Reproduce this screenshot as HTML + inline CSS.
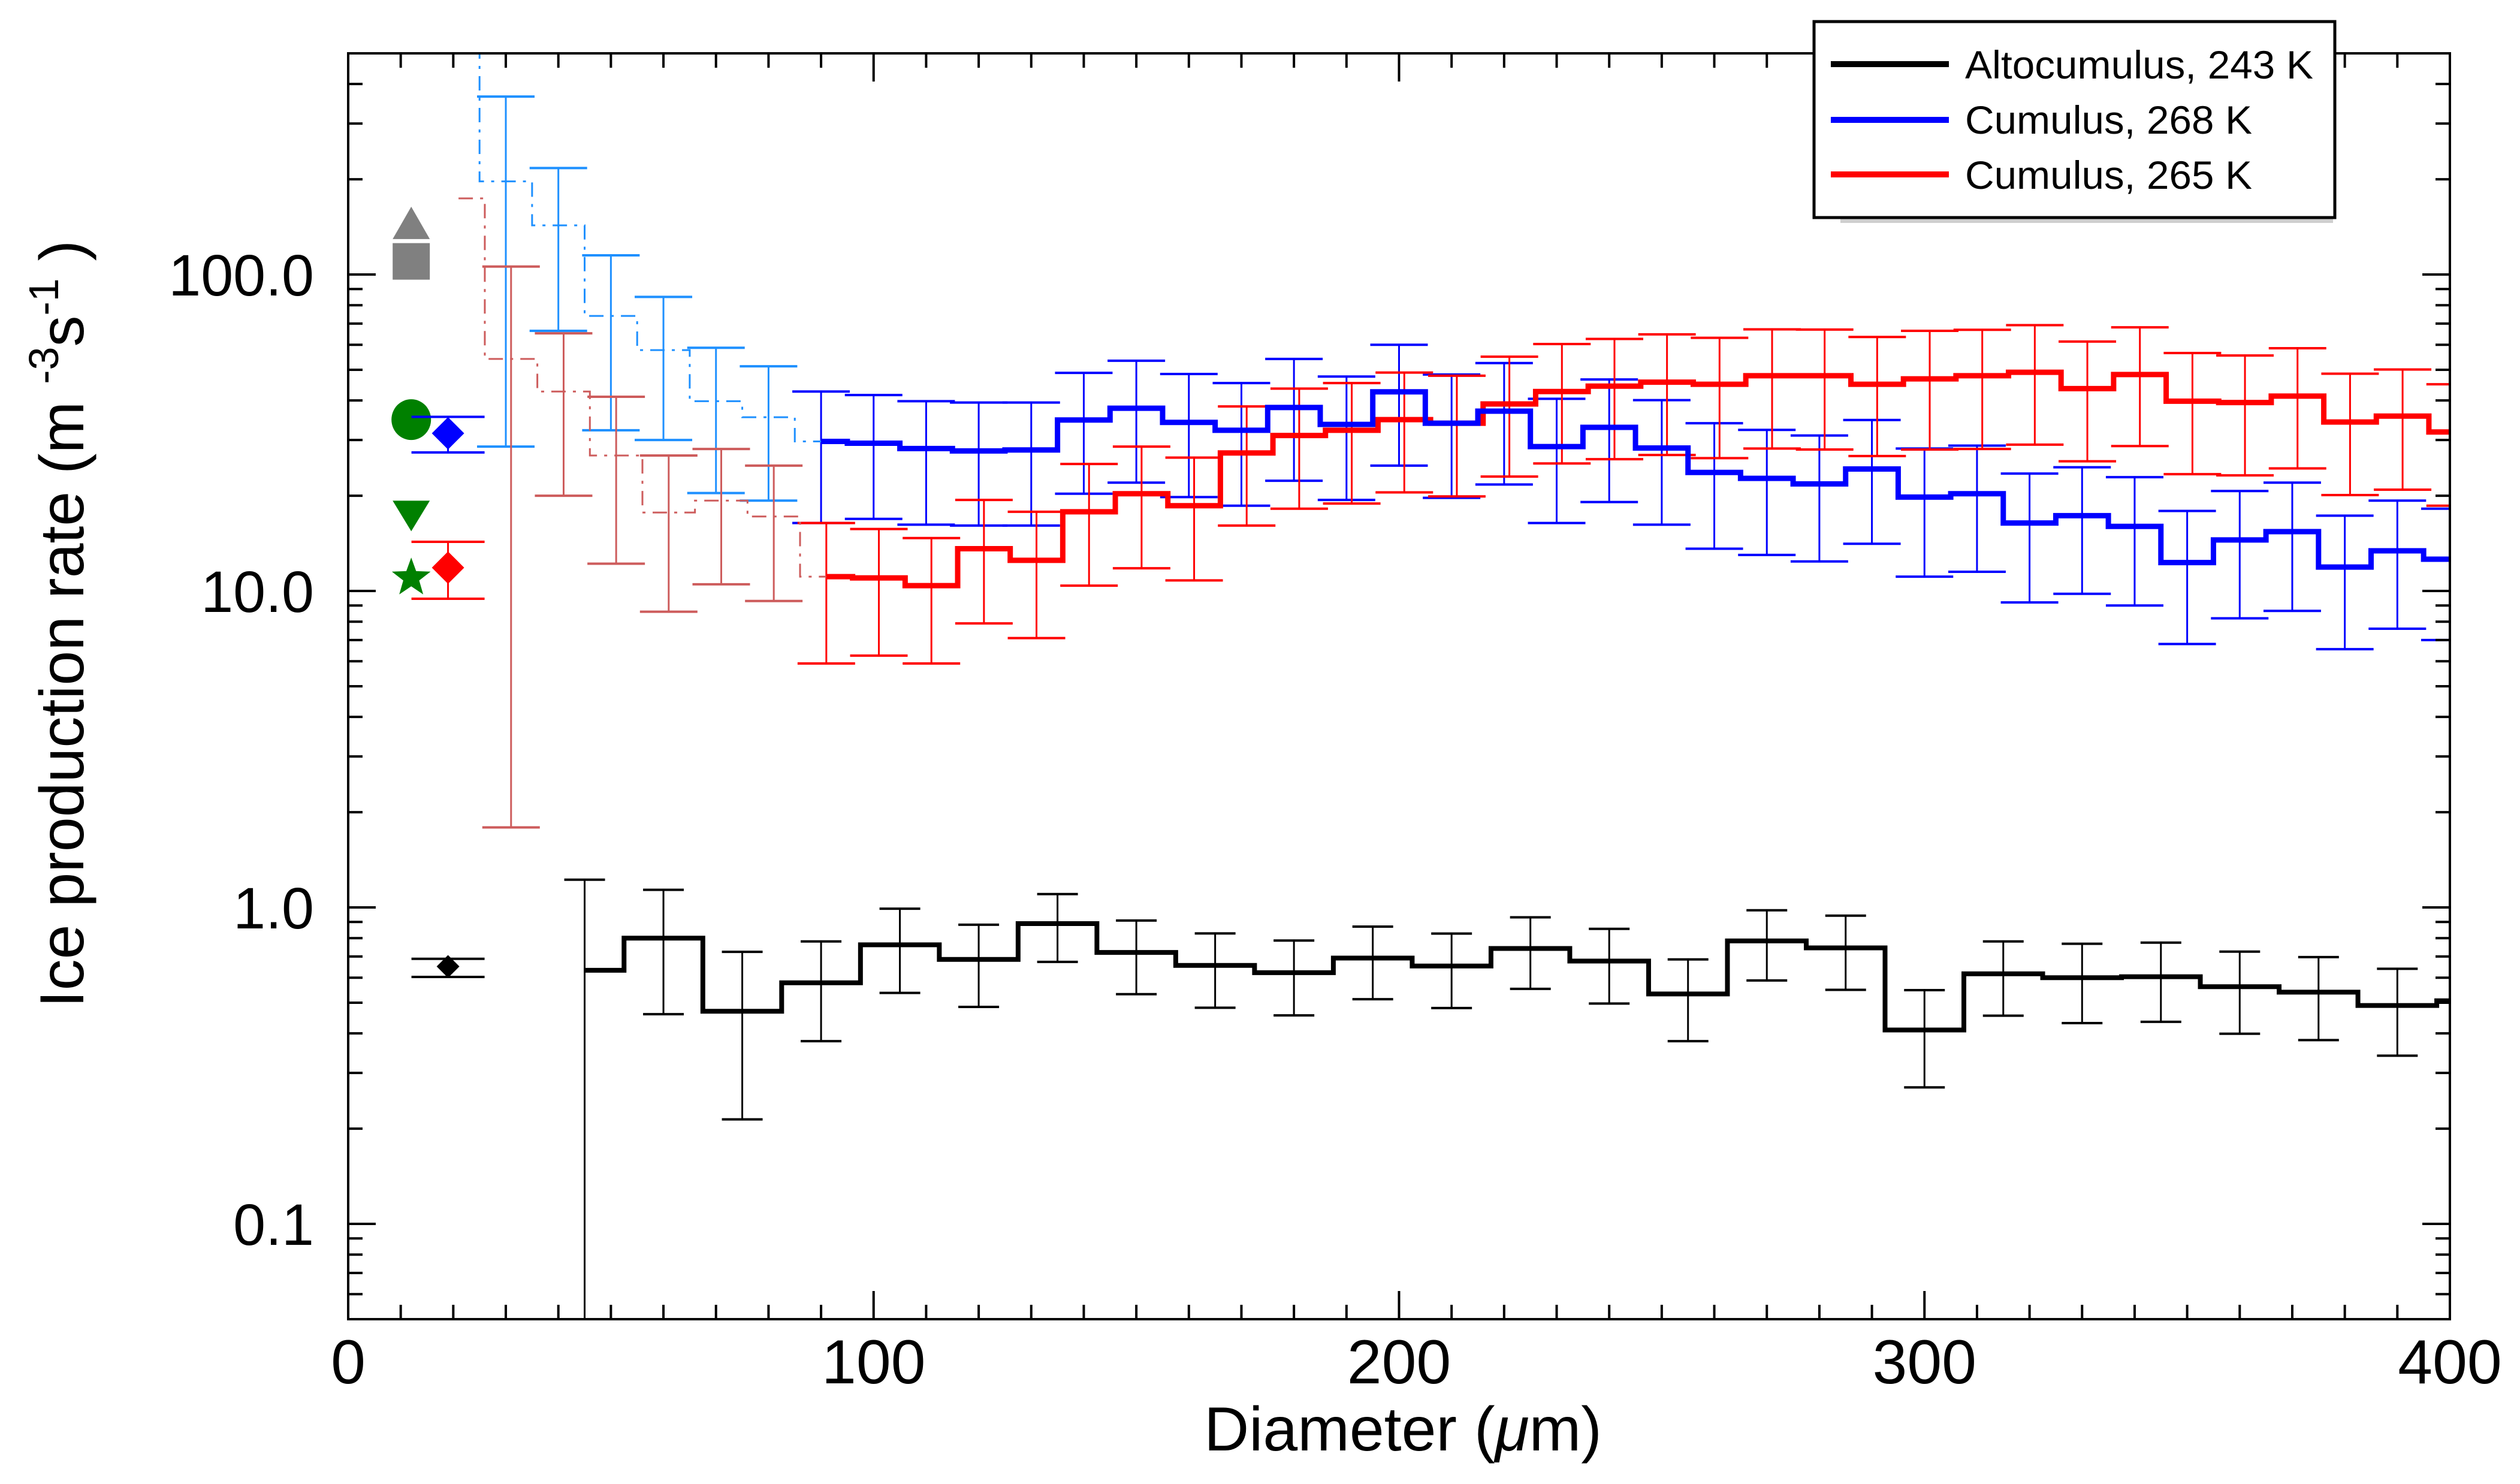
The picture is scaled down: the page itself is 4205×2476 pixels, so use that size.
<!DOCTYPE html>
<html><head><meta charset="utf-8"><style>
html,body{margin:0;padding:0;background:#fff;}
svg{display:block;font-family:"Liberation Sans",Arial,sans-serif;}
</style></head><body>
<svg id="chart" xmlns="http://www.w3.org/2000/svg" width="4205" height="2476" viewBox="0 0 4205 2476">
<defs><clipPath id="plotclip"><rect x="581" y="89" width="3507" height="2112"/></clipPath></defs>
<rect width="4205" height="2476" fill="#fff"/>
<g id="data" clip-path="url(#plotclip)"></g>
<g id="markers"></g>
<g id="axes"></g>
<text transform="translate(139,1041) rotate(-90)" text-anchor="middle" font-size="104">Ice production rate (m <tspan font-size="70" dy="-42">-3</tspan><tspan dy="42">s</tspan><tspan font-size="70" dy="-42">-1</tspan><tspan dy="42"> )</tspan></text>
<text x="2341" y="2420" text-anchor="middle" font-size="104">Diameter (<tspan font-style="italic">μ</tspan>m)</text>
<g>
<rect x="3071" y="362" width="822" height="10" fill="#cfcfcf"/>
<rect x="3027" y="36" width="869" height="327" fill="#fff" stroke="#000" stroke-width="5"/>
<line x1="3055" x2="3252" y1="107" y2="107" stroke="#000" stroke-width="10"/>
<line x1="3055" x2="3252" y1="200" y2="200" stroke="#0000ff" stroke-width="10"/>
<line x1="3055" x2="3252" y1="291" y2="291" stroke="#ff0000" stroke-width="10"/>
<text x="3279" y="131" font-size="66" textLength="581" lengthAdjust="spacingAndGlyphs">Altocumulus, 243 K</text>
<text x="3279" y="223" font-size="66" textLength="479" lengthAdjust="spacingAndGlyphs">Cumulus, 268 K</text>
<text x="3279" y="315" font-size="66" textLength="479" lengthAdjust="spacingAndGlyphs">Cumulus, 265 K</text>
</g>
</svg>
<script>
// ---- data ----
const blueCenters = [20,30,40,50,60,70,80,90,100,110,120,130,140,150,160,170,180,190,200,210,220,230,240,250,260,270,280,290,300,310,320,330,340,350,360,370,380,390,400];
const blueVals = [700,197,143,74,57.7,39.8,35.4,29.7,29.3,28.2,27.7,27.9,34.7,37.8,34.1,32.2,38.0,33.6,42.6,33.9,37.0,28.6,32.9,28.3,23.7,22.7,21.8,24.3,19.8,20.3,16.4,17.3,16.0,12.3,14.5,15.4,11.9,13.4,12.6];
const blueHi = [null,365,217,115,85,58.7,51.3,42.7,41.6,39.8,39.4,39.4,48.9,53.4,48.5,45.4,54.1,47.6,60.0,48.3,52.5,40.5,46.6,40.1,33.9,32.3,31,34.7,28.2,28.8,23.5,24.6,22.9,17.9,20.7,22.0,17.3,19.3,18.2];
const blueLo = [null,28.6,66.4,32.2,30,20.4,19.3,16.4,16.9,16.2,16.1,16.1,20.3,22.0,19.8,18.6,22.3,19.4,24.9,19.7,21.7,16.4,19.1,16.2,13.6,13.0,12.4,14.1,11.1,11.5,9.2,9.8,9.0,6.8,8.2,8.65,6.55,7.6,7.0];
const redCenters = [21,31,41,51,61,71,81,91,101,111,121,131,141,151,161,171,181,191,201,211,221,231,241,251,261,271,281,291,301,311,321,331,341,351,361,371,381,391,401];
const redVals = [174,54.1,42.7,26.8,17.7,19.3,17.2,11.1,11.0,10.4,13.6,12.5,17.8,20.3,18.6,27.3,31.0,32.2,34.8,33.9,39.0,42.7,44.4,45.7,45.0,47.9,47.9,45.0,46.8,47.9,49.1,43.6,48.3,39.8,39.4,41.3,34.2,35.7,31.8];
const redHi = [null,106,65.2,41.1,26.8,28.1,24.9,16.4,15.7,14.7,19.4,17.8,25.2,28.6,26.4,38.3,43.6,45.4,49.0,47.9,55.0,60.3,62.6,64.7,63.1,67.1,67,63.5,66.4,66.9,69.2,61.4,68.1,56.5,55.5,58.5,48.6,50.1,45];
const redLo = [null,1.79,20.0,12.2,8.6,10.5,9.3,5.9,6.25,5.9,7.9,7.1,10.4,11.8,10.8,16.1,18.2,18.9,20.5,19.9,23.0,25.3,26.1,26.9,26.3,28.2,28,26.7,28.0,28.1,29.0,25.7,28.7,23.4,23.2,24.4,20.1,20.9,18.6];
const blackCenters = [45,60,75,90,105,120,135,150,165,180,195,210,225,240,255,270,285,300,315,330,345,360,375,390,405];
const blackVals = [0.633,0.800,0.470,0.578,0.762,0.685,0.889,0.721,0.656,0.622,0.692,0.653,0.742,0.677,0.533,0.784,0.745,0.410,0.617,0.600,0.604,0.562,0.540,0.490,0.507];
const blackHi = [1.224,1.137,0.724,0.781,0.991,0.882,1.102,0.909,0.828,0.786,0.870,0.827,0.931,0.856,0.685,0.980,0.942,0.548,0.781,0.768,0.774,0.725,0.697,0.640,0.66];
const blackLo = [0.01,0.460,0.214,0.378,0.537,0.485,0.673,0.532,0.482,0.456,0.513,0.481,0.553,0.497,0.378,0.588,0.549,0.270,0.455,0.431,0.435,0.399,0.381,0.340,0.36];
const markerNames = ['grey-triangle','grey-square','green-circle','blue-diamond','green-triangle-down','green-star','red-diamond','black-diamond'];
const markerX = [12,12,12,19,12,12,19,19];
const markerVals = [145.6,109.8,34.8,31.5,17.3,11.0,11.85,0.651];
const markerHi = [null,null,null,35.5,null,null,14.3,0.688];
const markerLo = [null,null,null,27.4,null,null,9.45,0.603];
const yTickVals = [0.1,1,10,100];
const yTickLabels = ['0.1','1.0','10.0','100.0'];
const xTickVals = [0,100,200,300,400];
const xTickLabels = ['0','100','200','300','400'];

// ---- scales ----
const X0=581, X1=4088, Y0=89, Y1=2201, XMIN=0, XMAX=400, LMIN=Math.log10(0.05), LMAX=Math.log10(500);
function xs(v){return X0+(v-XMIN)/(XMAX-XMIN)*(X1-X0);}
function ys(v){return Y1-(Math.log10(v)-LMIN)/(LMAX-LMIN)*(Y1-Y0);}
const NS='http://www.w3.org/2000/svg';
function mk(tag,attrs,parent){const e=document.createElementNS(NS,tag);for(const k in attrs)e.setAttribute(k,attrs[k]);parent.appendChild(e);return e;}
const dataG=document.getElementById('data');
const axesG=document.getElementById('axes');
const markG=document.getElementById('markers');

function stepPath(c,v,i0,i1){
  let d='M'+xs(c[i0])+' '+ys(v[i0]);
  for(let i=i0+1;i<=i1;i++){const m=(c[i-1]+c[i])/2;d+=' H'+xs(m)+' V'+ys(v[i]);}
  d+=' H'+xs(c[i1]);return d;
}
function errBars(c,hi,lo,color,half,sw,name,split,lightColor){
  for(let i=0;i<c.length;i++){
    if(hi[i]==null)continue;
    const col=(split!=null&&i<split)?lightColor:color;
    const g=mk('g',{},dataG);
    
    
    const x=xs(c[i]),yh=ys(hi[i]),yl=ys(lo[i]);
    mk('line',{x1:x,x2:x,y1:yh,y2:yl,stroke:col,'stroke-width':sw},g);
    mk('line',{x1:x-half,x2:x+half,y1:yh,y2:yh,stroke:col,'stroke-width':sw+1},g);
    mk('line',{x1:x-half,x2:x+half,y1:yl,y2:yl,stroke:col,'stroke-width':sw+1},g);
  }
}
// error bars
errBars(blueCenters,blueHi,blueLo,'#0000ff',48,3,'blue',7,'#1e90ff');
errBars(redCenters,redHi,redLo,'#ff0000',48,3,'red',7,'#cd5c5c');
errBars(blackCenters,blackHi,blackLo,'#000',34,3,'black',null,null);
// steps
let p;
p=mk('path',{d:stepPath(blueCenters,blueVals,0,7),fill:'none',stroke:'#1e90ff','stroke-width':3,'stroke-dasharray':'24 12 5 12'},dataG);


p=mk('path',{d:stepPath(redCenters,redVals,0,7),fill:'none',stroke:'#cd5c5c','stroke-width':3,'stroke-dasharray':'24 12 5 12'},dataG);


p=mk('path',{d:stepPath(redCenters,redVals,7,redCenters.length-1),fill:'none',stroke:'#ff0000','stroke-width':9},dataG);


p=mk('path',{d:stepPath(blueCenters,blueVals,7,blueCenters.length-1),fill:'none',stroke:'#0000ff','stroke-width':9},dataG);


p=mk('path',{d:stepPath(blackCenters,blackVals,0,blackCenters.length-1),fill:'none',stroke:'#000','stroke-width':8},dataG);



// markers
const mColors={'grey-triangle':'#808080','grey-square':'#808080','green-circle':'#008000','blue-diamond':'#0000ff','green-triangle-down':'#008000','green-star':'#008000','red-diamond':'#ff0000','black-diamond':'#000'};
for(let i=0;i<markerNames.length;i++){
  const n=markerNames[i],x=xs(markerX[i]),y=ys(markerVals[i]),col=mColors[n];
  const g=mk('g',{},markG);
  
  
  if(markerHi[i]!=null){
    const yh=ys(markerHi[i]),yl=ys(markerLo[i]);
    mk('line',{x1:x,x2:x,y1:yh,y2:yl,stroke:col,'stroke-width':3},g);
    mk('line',{x1:x-61,x2:x+61,y1:yh,y2:yh,stroke:col,'stroke-width':4},g);
    mk('line',{x1:x-61,x2:x+61,y1:yl,y2:yl,stroke:col,'stroke-width':4},g);
  }
  let s;
  if(n==='grey-triangle')s=mk('polygon',{points:`${x},${y-27} ${x+31},${y+27} ${x-31},${y+27}`,fill:col},g);
  else if(n==='grey-square')s=mk('rect',{x:x-31,y:y-31,width:62,height:61,fill:col},g);
  else if(n==='green-circle')s=mk('ellipse',{cx:x,cy:y,rx:33,ry:34,fill:col},g);
  else if(n==='green-triangle-down')s=mk('polygon',{points:`${x-31},${y-25} ${x+31},${y-25} ${x},${y+26}`,fill:col},g);
  else if(n==='green-star'){let pts=[];for(let k=0;k<10;k++){const r=k%2?14:34,a=-Math.PI/2+k*Math.PI/5;pts.push((x+r*Math.cos(a)).toFixed(1)+','+(y+r*Math.sin(a)).toFixed(1));}s=mk('polygon',{points:pts.join(' '),fill:col},g);}
  else {const h=n==='black-diamond'?19:27;s=mk('polygon',{points:`${x},${y-h} ${x+h},${y} ${x},${y+h} ${x-h},${y}`,fill:col},g);}
}

// axes
const frame=mk('rect',{x:X0,y:Y0,width:X1-X0,height:Y1-Y0,fill:'none',stroke:'#000','stroke-width':4},axesG);


for(let d=-2;d<=2;d++){
  for(let m=1;m<=9;m++){
    const v=m*Math.pow(10,d);
    if(v<0.05||v>500)continue;
    const y=ys(v),L=(m===1)?46:24;
    const t1=mk('line',{x1:X0,x2:X0+L,y1:y,y2:y,stroke:'#000','stroke-width':4},axesG);
    
    
    const t2=mk('line',{x1:X1,x2:X1-L,y1:y,y2:y,stroke:'#000','stroke-width':4},axesG);
    
    
  }
}
for(let v=0;v<=400;v+=10){
  const x=xs(v),L=(v%100===0)?47:24;
  const t1=mk('line',{x1:x,x2:x,y1:Y1,y2:Y1-L,stroke:'#000','stroke-width':4},axesG);
  
  
  const t2=mk('line',{x1:x,x2:x,y1:Y0,y2:Y0+L,stroke:'#000','stroke-width':4},axesG);
  
  
}
for(let i=0;i<yTickVals.length;i++){
  const t=mk('text',{x:524,y:ys(yTickVals[i])+35,'text-anchor':'end','font-size':97},axesG);
  
  
  t.textContent=yTickLabels[i];
}
for(let i=0;i<xTickVals.length;i++){
  const t=mk('text',{x:xs(xTickVals[i]),y:2308,'text-anchor':'middle','font-size':104},axesG);
  
  
  t.textContent=xTickLabels[i];
}
</script>
</body></html>
